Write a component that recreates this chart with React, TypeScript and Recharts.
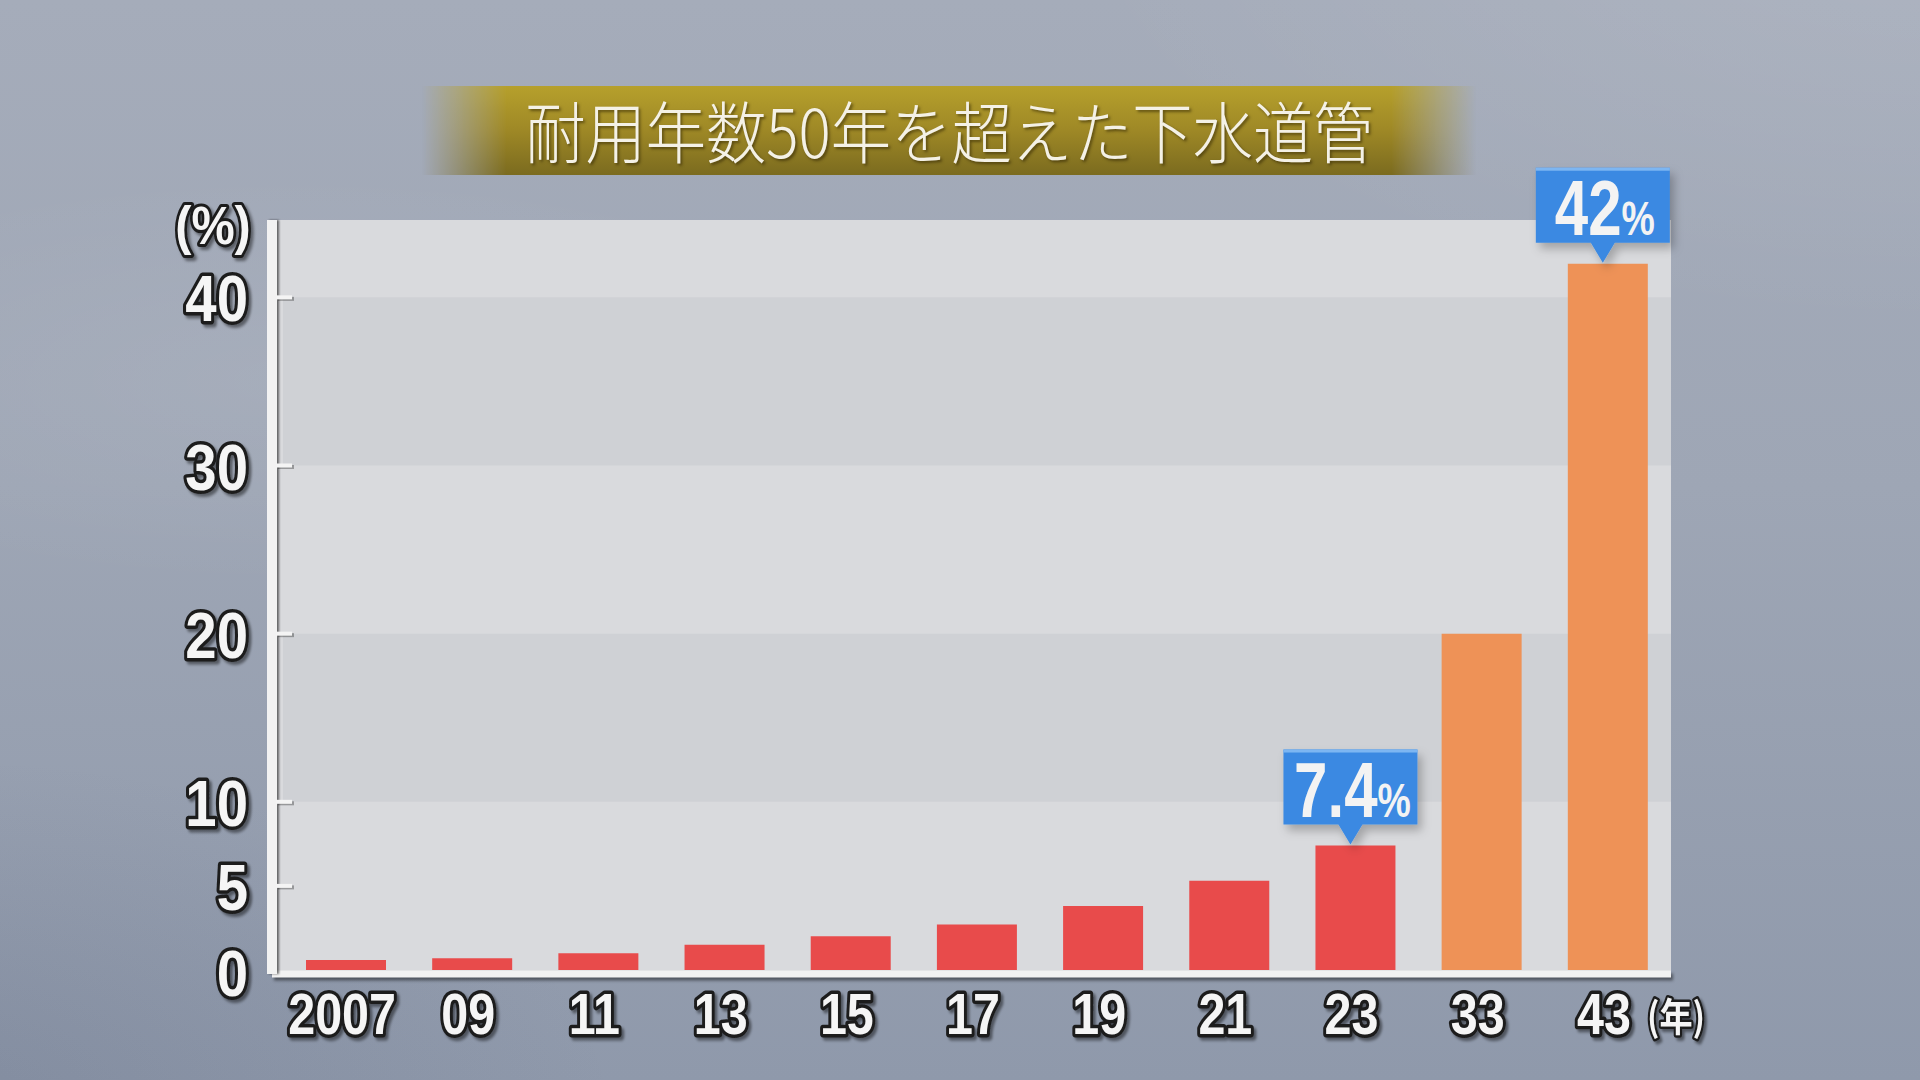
import { BarChart, Bar, XAxis, YAxis, CartesianGrid, ReferenceArea, Cell, LabelList } from 'recharts';

const years = ['2007', '09', '11', '13', '15', '17', '19', '21', '23', '33', '43'];
const shares = [0.6, 0.7, 1.0, 1.5, 2.0, 2.7, 3.8, 5.3, 7.4, 20, 42];
const kinds = ['actual', 'actual', 'actual', 'actual', 'actual', 'actual', 'actual', 'actual', 'actual', 'forecast', 'forecast'];
const callouts = ['', '', '', '', '', '', '', '', '7.4', '', '42'];
const yTicks = [0, 5, 10, 20, 30, 40];
const darkBands = [
  [10, 20],
  [30, 40],
];

const title = '耐用年数50年を超えた下水道管';

const data = years.map((year, i) => ({
  year,
  value: shares[i],
  kind: kinds[i],
  callout: callouts[i],
}));

const DIGIT_FONT = '"Liberation Sans", Arial, sans-serif';

function YTick(props: any) {
  const { x, y, payload } = props;
  const dy = payload.value === 0 ? 26 : 24;
  return (
    <g>
      {payload.value !== 0 && (
        <g>
          <rect x={x + 6} y={y - 0.5} width={16} height={4} fill="#000" opacity={0.3} />
          <rect x={x + 4} y={y - 2} width={16} height={4} fill="#f4f4f4" />
        </g>
      )}
      <g transform={`translate(${x - 24} ${y + dy}) scale(0.88 1)`}>
        <text
          textAnchor="end"
          fontFamily={DIGIT_FONT}
          fontWeight={700}
          fontSize={64}
          fill="#f5f5f5"
          stroke="#1c1c1c"
          strokeWidth={7}
          strokeLinejoin="round"
          paintOrder="stroke"
          filter="url(#textShadow)"
        >
          {payload.value}
        </text>
      </g>
    </g>
  );
}

function XTick(props: any) {
  const { x, y, payload } = props;
  return (
    <g transform={`translate(${x - 4} ${y + 60}) scale(0.85 1)`}>
      <text
        textAnchor="middle"
        fontFamily={DIGIT_FONT}
        fontWeight={700}
        fontSize={57}
        fill="#f5f5f5"
        stroke="#1c1c1c"
        strokeWidth={7}
        strokeLinejoin="round"
        paintOrder="stroke"
        filter="url(#textShadow)"
      >
        {payload.value}
      </text>
    </g>
  );
}

function Callout(props: any) {
  const { x, y, width, value } = props;
  if (!value) return null;
  const cx = x + width / 2 - 5;
  const boxW = 134;
  const boxH = 75;
  const bottom = y - 21;
  const top = bottom - boxH;
  const left = cx - boxW / 2;
  const d = `M${left},${top} H${left + boxW} V${bottom} H${cx + 12} L${cx},${y - 1} L${cx - 12},${bottom} H${left} Z`;
  return (
    <g>
      <path d={d} fill="#3a89e2" filter="url(#boxShadow)" />
      <rect x={left} y={top} width={boxW} height={3} fill="#7db6f2" />
      <g transform={`translate(${cx + 2} ${bottom - 8}) scale(0.78 1)`}>
        <text textAnchor="middle" fontFamily={DIGIT_FONT} fontWeight={700} fill="#f3f3f3">
          <tspan fontSize={77}>{value}</tspan>
          <tspan fontSize={48}>%</tspan>
        </text>
      </g>
    </g>
  );
}

export default function App() {
  return (
    <div
      style={{
        position: 'absolute',
        left: 0,
        top: 0,
        width: 1920,
        height: 1080,
        overflow: 'hidden',
        background:
          'radial-gradient(ellipse 1300px 650px at 1950px -120px, rgba(255,255,255,0.10), rgba(255,255,255,0) 70%),' +
          'radial-gradient(ellipse 1000px 520px at -80px 1120px, rgba(70,80,105,0.18), rgba(70,80,105,0) 70%),' +
          'radial-gradient(ellipse 900px 300px at 300px 380px, rgba(255,255,255,0.07), rgba(255,255,255,0) 70%),' +
          'linear-gradient(180deg, #a5acba 0%, #9ea6b5 45%, #8f99ab 100%)',
      }}
    >
      <style>{`body{margin:0}
.recharts-yAxis .recharts-cartesian-axis-line{filter:drop-shadow(2px 0px 0.8px rgba(0,0,0,0.55))}
.recharts-xAxis .recharts-cartesian-axis-line{filter:drop-shadow(2px 3px 1.5px rgba(0,0,0,0.45))}`}</style>

      {/* title band */}
      <div
        style={{
          position: 'absolute',
          left: 422,
          top: 86,
          width: 1054,
          height: 89,
          background: 'linear-gradient(180deg, #b6a02c 0%, #9e8826 50%, #7b6b1f 100%)',
          WebkitMaskImage:
            'linear-gradient(90deg, rgba(0,0,0,0) 0%, #000 8%, #000 92%, rgba(0,0,0,0) 100%)',
          maskImage: 'linear-gradient(90deg, rgba(0,0,0,0) 0%, #000 8%, #000 92%, rgba(0,0,0,0) 100%)',
        }}
      />
      <div
        style={{
          position: 'absolute',
          left: 422,
          top: 84,
          width: 1054,
          height: 89,
          display: 'flex',
          alignItems: 'center',
          justifyContent: 'center',
        }}
      >
        <span
          style={{
            display: 'inline-block',
            transform: 'scaleX(0.9)',
            fontFamily: '"Noto Sans CJK JP", sans-serif',
            fontWeight: 300,
            fontSize: 67,
            color: '#f4f1e6',
            textShadow: '2px 2px 3px rgba(40,30,0,0.55)',
            whiteSpace: 'nowrap',
          }}
        >
          {title}
        </span>
      </div>

      <div style={{ position: 'absolute', left: 0, top: 0 }}>
        <BarChart
          width={1920}
          height={1080}
          data={data}
          margin={{ top: 220, right: 249, bottom: 36, left: 172 }}
        >
          <defs>
            <filter id="textShadow" x="-20%" y="-20%" width="150%" height="150%">
              <feDropShadow dx={3} dy={3} stdDeviation={1.5} floodColor="#000" floodOpacity={0.45} />
            </filter>
            <filter id="boxShadow" x="-20%" y="-20%" width="150%" height="150%">
              <feDropShadow dx={4} dy={6} stdDeviation={5} floodColor="#000" floodOpacity={0.25} />
            </filter>
          </defs>
          <CartesianGrid fill="#d9dadd" horizontal={false} vertical={false} />
          {darkBands.map(([a, b]) => (
            <ReferenceArea key={a} y1={a} y2={b} fill="#cfd1d5" fillOpacity={1} stroke="none" />
          ))}
          <XAxis
            dataKey="year"
            height={70}
            padding={{ left: 11, right: 0 }}
            tickSize={0}
            tickMargin={0}
            tick={<XTick />}
            axisLine={{ stroke: '#f2f2f2', strokeWidth: 7 }}
            tickLine={false}
            interval={0}
          />
          <YAxis
            width={100}
            domain={[-0.24, 44.6]}
            ticks={yTicks}
            allowDataOverflow
            tickSize={0}
            tickMargin={0}
            tick={<YTick />}
            axisLine={{ stroke: '#f2f2f2', strokeWidth: 10 }}
            tickLine={false}
          />
          <Bar dataKey="value" barSize={80} isAnimationActive={false}>
            {data.map((d) => (
              <Cell key={d.year} fill={d.kind === 'actual' ? '#e84b4b' : '#ee9257'} />
            ))}
            <LabelList dataKey="callout" content={<Callout />} />
          </Bar>
        </BarChart>
      </div>

      {/* unit labels */}
      <svg width={1920} height={1080} style={{ position: 'absolute', left: 0, top: 0, pointerEvents: 'none' }}>
        <defs>
          <filter id="unitShadow" x="-20%" y="-20%" width="150%" height="150%">
            <feDropShadow dx={3} dy={3} stdDeviation={1.5} floodColor="#000" floodOpacity={0.45} />
          </filter>
        </defs>
        <g transform="translate(213 244) scale(0.9 1)">
          <text
            textAnchor="middle"
            fontFamily={DIGIT_FONT}
            fontWeight={700}
            fontSize={54}
            fill="#f5f5f5"
            stroke="#1c1c1c"
            strokeWidth={6}
            strokeLinejoin="round"
            paintOrder="stroke"
            filter="url(#unitShadow)"
          >
            (%)
          </text>
        </g>
        <g transform="translate(1676 1031) scale(0.85 1)">
          <text
            textAnchor="middle"
            fontFamily='"Noto Sans CJK JP", sans-serif'
            fontWeight={700}
            fontSize={39}
            fill="#f5f5f5"
            stroke="#1c1c1c"
            strokeWidth={5}
            strokeLinejoin="round"
            paintOrder="stroke"
            filter="url(#unitShadow)"
          >
            (年)
          </text>
        </g>
      </svg>
    </div>
  );
}
